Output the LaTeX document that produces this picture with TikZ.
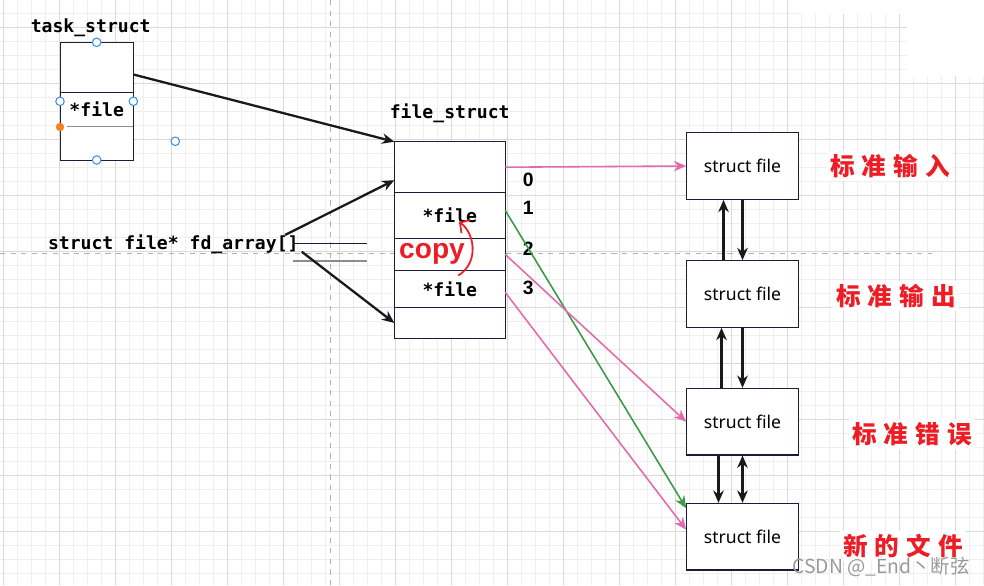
\documentclass[tikz,border=0pt]{standalone}
\usepackage{fontspec}
\setmainfont{Noto Sans}
\newfontfamily\codefont{DejaVu Sans Mono}
\newfontfamily\numfont{Liberation Sans}
\newfontfamily\cjkfont{Noto Sans CJK SC}
\usetikzlibrary{arrows.meta, positioning, calc}

\definecolor{boxline}{HTML}{1B1B3A}
\definecolor{pinkline}{HTML}{E26BAE}
\definecolor{greenline}{HTML}{3A9A4A}
\definecolor{redtext}{HTML}{EE1C25}
\definecolor{gridminor}{HTML}{EFEFEF}
\definecolor{gridmajor}{HTML}{D9D9D9}
\definecolor{handleblue}{HTML}{3D8FE8}
\definecolor{handleorange}{HTML}{F58220}

\tikzset{
  codetext/.style={font=\codefont\bfseries\fontsize{10.3}{12}\selectfont, inner sep=1pt},
  slot/.style={draw=boxline, line width=0.7pt, fill=white, minimum width=2.22cm, inner sep=0pt, outer sep=0pt, font=\codefont\bfseries\fontsize{10.3}{12}\selectfont},
  filebox/.style={draw=boxline, line width=0.7pt, fill=white, minimum width=2.23cm, minimum height=1.33cm, font=\fontsize{10}{12}\selectfont},
  fdnum/.style={font=\numfont\bfseries\fontsize{11}{13}\selectfont, inner sep=1pt},
  redlabel/.style={font=\cjkfont\bfseries\fontsize{14}{16}\selectfont, text=redtext, fill=white, inner sep=2pt},
  blackarrow/.style={-{Stealth[length=7pt,width=6pt]}, line width=1.3pt, draw=black!90},
  pinkarrow/.style={-{Stealth[length=7pt,width=6pt]}, line width=0.9pt, draw=pinkline},
  greenarrow/.style={-{Stealth[length=7pt,width=6pt]}, line width=0.9pt, draw=greenline},
  handle/.style={circle, draw=handleblue, fill=white, line width=0.6pt, minimum size=0.17cm, inner sep=0pt},
}

\begin{document}
\begin{tikzpicture}[x=0.02cm, y=-0.02cm]
\useasboundingbox (0,0) rectangle (984,585);

\foreach \k in {0,...,70} \draw[gridminor] ({3.3+14*\k},0) -- ({3.3+14*\k},585);
\foreach \k in {0,...,40} \draw[gridminor] (0,{13.3+14*\k}) -- (984,{13.3+14*\k});
\foreach \k in {0,...,17} \draw[gridmajor] ({3.3+56*\k},0) -- ({3.3+56*\k},585);
\foreach \k in {0,...,9} \draw[gridmajor] (0,{27.3+56*\k}) -- (984,{27.3+56*\k});
\fill[white] (907,0) rectangle (984,76);
\fill[white] (800,0) rectangle (907,14);
\draw[black!30, dashed] (330,0) -- (330,585);
\draw[black!30, dashed] (0,253) -- (932,253);

\node[codetext] (tasklabel) at (90.7,28) {task\_struct};
\node[draw=boxline, line width=0.7pt, fill=white, minimum width=1.46cm, minimum height=2.36cm] (task) at (96.7,101.2) {};
\draw[boxline, line width=0.7pt] (60,92.3) -- (133.3,92.3);
\draw[black!45, line width=0.9pt] (66.7,126.7) -- (133.3,126.7);
\node[codetext] (taskfile) at (96.7,109.3) {*file};
\node[handle] (h1) at (96.7,42.3) {};
\node[handle] (h2) at (60,101.3) {};
\node[handle] (h3) at (133.3,101.3) {};
\node[handle] (h4) at (96.7,160) {};
\node[handle] (h5) at (175.3,141.3) {};
\node[circle, fill=handleorange, minimum size=0.17cm, inner sep=0pt] (h6) at (60,127) {};

\node[codetext] (fslabel) at (449.7,113) {file\_struct};
\node[slot, minimum height=1.02cm] (fs0) at (449.8,167.2) {};
\node[slot, minimum height=0.91cm, below=0pt of fs0] (fs1) {*file};
\node[slot, minimum height=0.65cm, below=0pt of fs1] (fs2) {};
\node[slot, minimum height=0.73cm, below=0pt of fs2] (fs3) {*file};
\node[slot, minimum height=0.63cm, below=0pt of fs3] (fs4) {};

\node[fdnum] (n0) at (528.3,180) {0};
\node[fdnum] (n1) at (528.3,208.3) {1};
\node[fdnum] (n2) at (528.3,248.3) {2};
\node[fdnum] (n3) at (528.3,288.3) {3};

\node[codetext] (fd) at (173.3,244) {struct file* fd\_array[]};
\coordinate (fdtop) at (285,235);
\coordinate (fdbot) at (301.7,251.7);
\draw[boxline, line width=0.7pt] (293.3,243.3) -- (366.7,243.3);
\draw[black!45, line width=0.9pt] (293.3,261) -- (366.7,261);

\node[font=\numfont\bfseries\fontsize{16}{18}\selectfont, text=redtext, inner sep=0pt] (copy) at (432,254) {copy};
\coordinate (copystart) at (458.3,275.5);
\coordinate (copyend) at (459,222);
\draw[redtext, line width=1pt, -{Straight Barb[length=4pt,width=9pt]}] (copystart) .. controls (480,262) and (474,232) .. (copyend);

\node[filebox] (sf0) at (742.5,166) {struct file};
\node[filebox] (sf1) at (742.5,294) {struct file};
\node[filebox] (sf2) at (742.5,421.7) {struct file};
\node[filebox] (sf3) at (742.5,536.7) {struct file};

\draw[blackarrow] ($(task.north east)+(0,33)$) -- (fs0.north west);
\draw[blackarrow] (fdtop) -- ([yshift=-0.26cm]fs0.west);
\draw[blackarrow] (fdbot) -- (fs4.west);

\draw[blackarrow] ([xshift=-0.38cm]sf1.north) -- ([xshift=-0.38cm]sf0.south);
\draw[blackarrow] (sf0.south) -- (sf1.north);
\draw[blackarrow] ([xshift=-0.42cm]sf2.north) -- ([xshift=-0.42cm]sf1.south);
\draw[blackarrow] (sf1.south) -- (sf2.north);
\draw[blackarrow] ([xshift=-0.48cm]sf2.south) -- ([xshift=-0.48cm]sf3.north);
\draw[blackarrow, {Stealth[length=7pt,width=6pt]}-{Stealth[length=7pt,width=6pt]}] (sf2.south) -- (sf3.north);

\draw[pinkarrow] (fs0.east) -- (sf0.west);
\draw[greenarrow] ([yshift=0.1cm]fs1.east) -- ([yshift=0.57cm]sf3.west);
\draw[pinkarrow] (fs2.east) -- (sf2.west);
\draw[pinkarrow] ([yshift=-0.07cm]fs3.east) -- ([yshift=0.14cm]sf3.west);

\node[redlabel] (stdin) at (890,166) {标\hspace{4pt}准\hspace{4pt}输\hspace{4pt}入};
\node[redlabel] (stdout) at (896,296) {标\hspace{4pt}准\hspace{4pt}输\hspace{4pt}出};
\node[redlabel] (stderr) at (912,434) {标\hspace{4pt}准\hspace{4pt}错\hspace{4pt}误};
\node[redlabel] (newfile) at (903,546) {新\hspace{4pt}的\hspace{4pt}文\hspace{4pt}件};

\node[font=\cjkfont\fontsize{11}{13}\selectfont, text=black!40, inner sep=0pt] (mark) at (881,567) {CSDN @\_End丶断弦};
\end{tikzpicture}
\end{document}
